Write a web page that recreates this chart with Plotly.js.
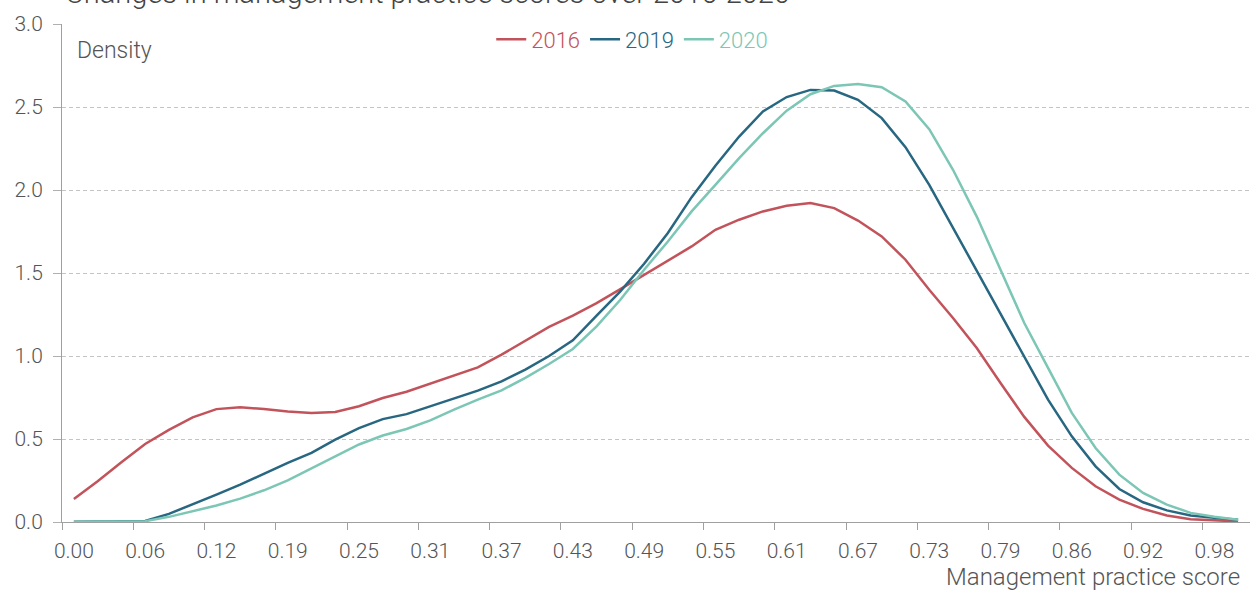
<!DOCTYPE html>
<html>
<head>
<meta charset="utf-8">
<script src="https://cdn.plot.ly/plotly-3.0.1.min.js"></script>
<style>
  html, body { margin: 0; padding: 0; background: #fff; }
  #chart { width: 1250px; height: 595px; }
</style>
</head>
<body>
<div id="chart"></div>
<script>
// ---- Data ----
const chartTitle = "Changes in management practice scores over 2016-2020";
const xAxisTitle = "Management practice score";
const yAxisTitle = "Density";
const xTickLabels = ["0.00","0.06","0.12","0.19","0.25","0.31","0.37","0.43","0.49","0.55","0.61","0.67","0.73","0.79","0.86","0.92","0.98"];
const seriesNames = ["2016", "2019", "2020"];

const density2016 = [0.139,0.245,0.36,0.47,0.555,0.63,0.68,0.692,0.68,0.665,
  0.657,0.663,0.697,0.747,0.785,0.833,0.881,0.931,1.008,1.094,
  1.175,1.243,1.319,1.403,1.489,1.574,1.66,1.76,1.821,1.871,
  1.905,1.921,1.891,1.816,1.72,1.58,1.399,1.229,1.048,0.837,
  0.633,0.46,0.326,0.215,0.135,0.079,0.039,0.016,0.008,0.004];

const density2019 = [0.002,0.002,0.003,0.006,0.049,0.105,0.165,0.225,0.291,0.356,
  0.416,0.496,0.566,0.62,0.65,0.697,0.743,0.791,0.847,0.918,
  1.0,1.094,1.243,1.389,1.556,1.741,1.957,2.146,2.322,2.473,
  2.56,2.603,2.599,2.543,2.433,2.258,2.031,1.771,1.509,1.252,
  0.996,0.737,0.516,0.335,0.199,0.119,0.07,0.039,0.025,0.014];

const density2020 = [0.002,0.002,0.003,0.005,0.031,0.064,0.099,0.141,0.191,0.251,
  0.323,0.396,0.467,0.521,0.56,0.612,0.677,0.737,0.793,0.868,
  0.952,1.042,1.178,1.339,1.52,1.69,1.871,2.031,2.192,2.342,
  2.478,2.577,2.627,2.639,2.619,2.533,2.366,2.122,1.84,1.52,
  1.199,0.928,0.657,0.446,0.285,0.175,0.105,0.055,0.031,0.014];

// ---- Styling ----
const colors = ["#c2535b", "#276781", "#7cc6b5"];
const FONT = "Roboto, 'Open Sans', 'DejaVu Sans', sans-serif";
const textGray = "#555555";

const allSeries = [density2016, density2019, density2020];
const nPts = density2016.length;
const xIdx = density2016.map((_, i) => i);
const step = 3;
const tickVals = xTickLabels.map((_, k) => k * step);
const boundaryVals = xTickLabels.map((_, k) => k * step - 0.5);

const traces = allSeries.map((ys, s) => ({
  type: "scatter",
  mode: "lines",
  x: xIdx,
  y: ys,
  name: '<span style="color:' + colors[s] + '">' + seriesNames[s] + '</span>',
  line: { color: colors[s], width: 2.5 },
  hoverinfo: "skip"
}));

const layout = {
  width: 1250,
  height: 595,
  margin: { l: 62, r: 0, t: 24, b: 73, pad: 0 },
  paper_bgcolor: "#ffffff",
  plot_bgcolor: "#ffffff",
  font: { family: FONT, size: 21, color: textGray, weight: 300 },
  title: {
    text: chartTitle,
    font: { family: FONT, size: 29, color: "#444444", weight: 300 },
    xref: "container", yref: "container",
    x: 65 / 1250, xanchor: "left",
    y: 1 - 3 / 595, yanchor: "bottom"
  },
  showlegend: true,
  legend: {
    orientation: "h",
    x: 0.48, xanchor: "center",
    y: 0.969, yanchor: "middle",
    font: { family: FONT, size: 22, weight: 300 },
    bgcolor: "rgba(0,0,0,0)",
    itemwidth: 30,
    tracegroupgap: 0
  },
  xaxis: {
    type: "linear",
    range: [-0.5, nPts - 0.5],
    tickmode: "array",
    tickvals: tickVals,
    ticktext: xTickLabels,
    ticks: "",
    showgrid: false,
    zeroline: false,
    showline: true,
    linecolor: "#a0a0a0",
    linewidth: 1,
    tickfont: { family: FONT, size: 21, color: textGray, weight: 300 },
    ticklabelstandoff: 10,
    minor: {
      tickmode: "array",
      tickvals: boundaryVals,
      ticks: "outside",
      ticklen: 7,
      tickwidth: 1,
      tickcolor: "#a0a0a0",
      showgrid: false
    }
  },
  yaxis: {
    range: [0, 3],
    tickmode: "linear",
    tick0: 0,
    dtick: 0.5,
    tickformat: ".1f",
    ticks: "outside",
    ticklen: 8,
    tickwidth: 1,
    tickcolor: "#b0b0b0",
    showline: true,
    linecolor: "#a0a0a0",
    linewidth: 1,
    showgrid: true,
    gridcolor: "#c4c4c4",
    gridwidth: 1,
    griddash: "4px,3px",
    zeroline: false,
    tickfont: { family: FONT, size: 21, color: textGray, weight: 300 },
    ticklabelstandoff: 6
  },
  annotations: [
    {
      text: yAxisTitle,
      xref: "paper", yref: "paper",
      x: 13 / 1188, xanchor: "left",
      y: 0.9466, yanchor: "middle",
      showarrow: false,
      font: { family: FONT, size: 23, color: textGray, weight: 300 }
    },
    {
      text: xAxisTitle,
      xref: "paper", yref: "paper",
      x: (1242 - 62) / 1188, xanchor: "right",
      y: -(577 - 522.4) / 498, yanchor: "middle",
      showarrow: false,
      font: { family: FONT, size: 24, color: textGray, weight: 300 }
    }
  ]
};

Plotly.newPlot("chart", traces, layout, { displayModeBar: false, staticPlot: true });
</script>
</body>
</html>
